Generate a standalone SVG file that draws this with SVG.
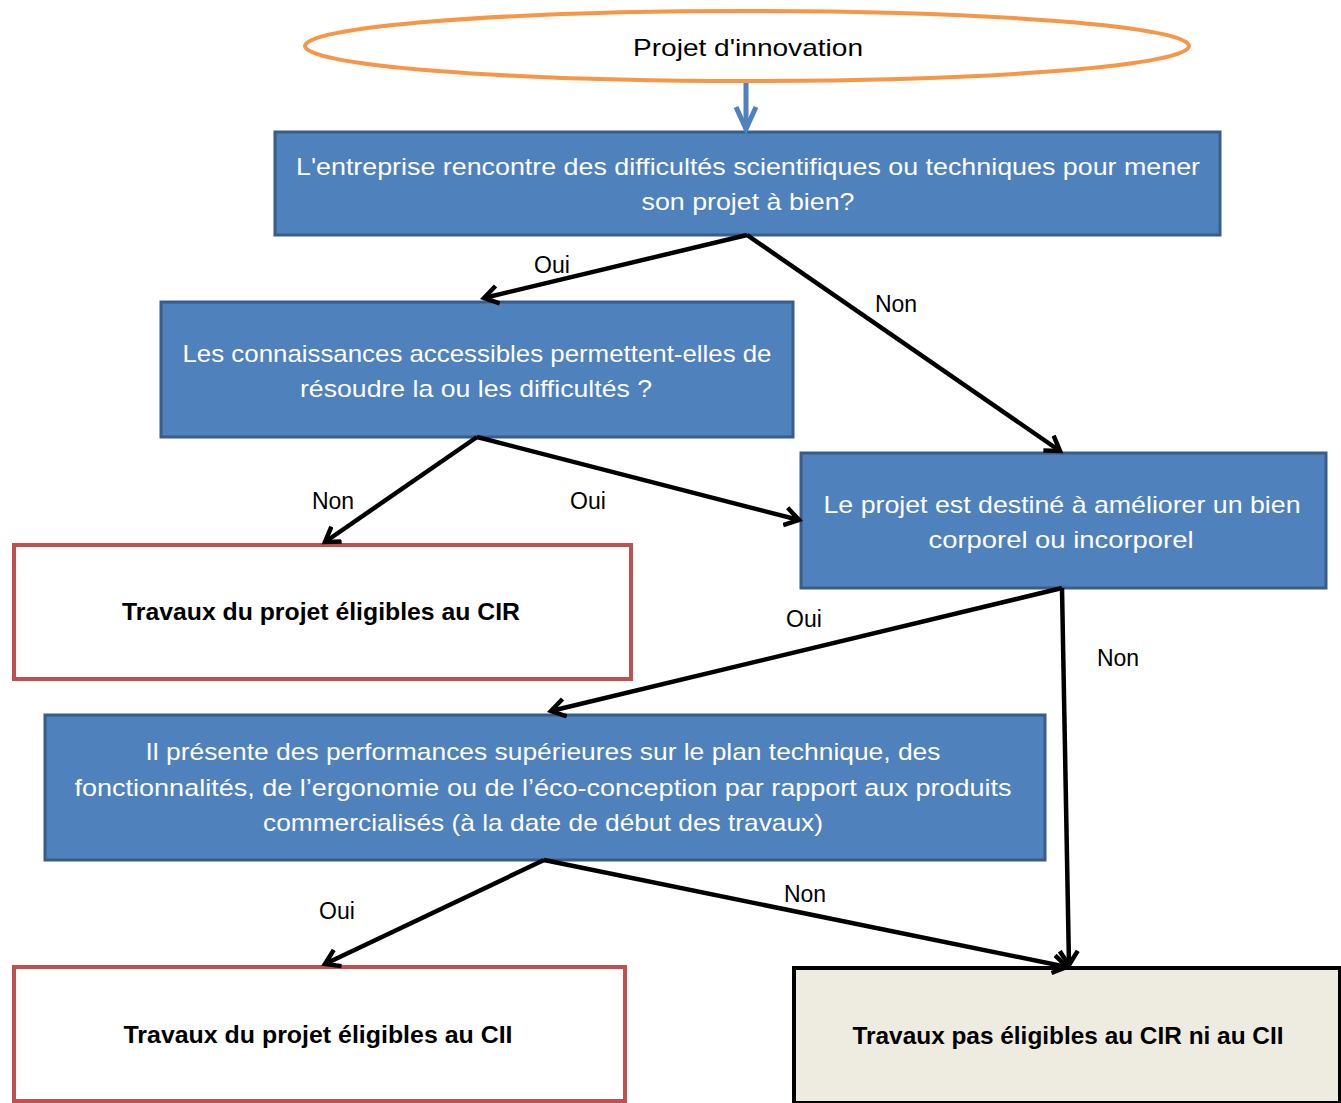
<svg xmlns="http://www.w3.org/2000/svg" width="1341" height="1103" viewBox="0 0 1341 1103">
<style>
.blue{fill:#4F81BD;stroke:#385D8A;stroke-width:3}
.red{fill:#FFFFFF;stroke:#C0504D;stroke-width:4}
.fin{fill:#EEECE1;stroke:#000000;stroke-width:4}
.wt{font-family:"Liberation Sans",Arial,sans-serif;font-size:24px;fill:#FFFFFF;text-anchor:middle}
.bt{font-family:"Liberation Sans",Arial,sans-serif;font-size:24px;font-weight:bold;fill:#000000;text-anchor:middle}
.lb{font-family:"Liberation Sans",Arial,sans-serif;font-size:23px;fill:#000000;text-anchor:middle}
.con{stroke:#000000;stroke-width:4.5;fill:none;marker-end:url(#ah)}
</style>
<defs>
<marker id="ah" markerUnits="userSpaceOnUse" markerWidth="30" markerHeight="30" viewBox="-15 -15 30 30" refX="0" refY="0" orient="auto">
<path d="M-14,-9 L0,0 L-14,9" fill="none" stroke="#000000" stroke-width="4.5"/>
</marker>
<marker id="ahb" markerUnits="userSpaceOnUse" markerWidth="36" markerHeight="36" viewBox="-24 -18 36 36" refX="0" refY="0" orient="auto">
<path d="M-22,-10 L0,0 L-22,10" fill="none" stroke="#4F81BD" stroke-width="5"/>
</marker>
</defs>
<rect x="0" y="0" width="1341" height="1103" fill="#FFFFFF"/>
<g id="start">
<ellipse cx="747" cy="46" rx="442" ry="35" fill="#FFFFFF" stroke="#F79646" stroke-width="4"/>
<text x="748" y="56" class="lb" style="font-size:24px" textLength="230" lengthAdjust="spacingAndGlyphs">Projet d'innovation</text>
</g>
<g id="q1">
<rect x="275" y="132" width="945" height="103" class="blue"/>
<text x="748" y="175" class="wt" textLength="904" lengthAdjust="spacingAndGlyphs">L'entreprise rencontre des difficultés scientifiques ou techniques pour mener</text>
<text x="748" y="210" class="wt" textLength="213" lengthAdjust="spacingAndGlyphs">son projet à bien?</text>
</g>
<g id="q2">
<rect x="161" y="302" width="632" height="135" class="blue"/>
<text x="477" y="362" class="wt" textLength="589" lengthAdjust="spacingAndGlyphs">Les connaissances accessibles permettent-elles de</text>
<text x="476" y="397" class="wt" textLength="352" lengthAdjust="spacingAndGlyphs">résoudre la ou les difficultés ?</text>
</g>
<g id="cir">
<rect x="14" y="545" width="617" height="134" class="red"/>
<text x="321" y="620" class="bt" textLength="398" lengthAdjust="spacingAndGlyphs">Travaux  du projet éligibles au CIR</text>
</g>
<g id="q3">
<rect x="801" y="453" width="525" height="135" class="blue"/>
<text x="1062" y="513" class="wt" textLength="477" lengthAdjust="spacingAndGlyphs">Le projet est destiné à améliorer un bien</text>
<text x="1061" y="548" class="wt" textLength="265" lengthAdjust="spacingAndGlyphs">corporel ou incorporel</text>
</g>
<g id="q4">
<rect x="45" y="715" width="1000" height="145" class="blue"/>
<text x="543" y="760" class="wt" textLength="795" lengthAdjust="spacingAndGlyphs">Il présente des performances supérieures sur le plan technique, des</text>
<text x="543" y="796" class="wt" textLength="937" lengthAdjust="spacingAndGlyphs">fonctionnalités, de l’ergonomie ou de l’éco-conception par rapport aux produits</text>
<text x="543" y="831" class="wt" textLength="560" lengthAdjust="spacingAndGlyphs">commercialisés (à la date de début des travaux)</text>
</g>
<g id="cii">
<rect x="14" y="967" width="611" height="134" class="red"/>
<text x="318" y="1043" class="bt" textLength="389" lengthAdjust="spacingAndGlyphs">Travaux  du projet éligibles au CII</text>
</g>
<g id="none">
<rect x="794" y="968" width="546" height="135" class="fin"/>
<text x="1068" y="1044" class="bt" textLength="431" lengthAdjust="spacingAndGlyphs">Travaux pas éligibles au CIR ni au CII</text>
</g>
<g id="connectors">
<line x1="746" y1="83" x2="746" y2="129" stroke="#4F81BD" stroke-width="5" marker-end="url(#ahb)"/>
<line x1="747" y1="235" x2="484" y2="298" class="con"/>
<line x1="747" y1="235" x2="1060" y2="451" class="con"/>
<line x1="477" y1="437" x2="325" y2="542" class="con"/>
<line x1="477" y1="437" x2="799" y2="520" class="con"/>
<line x1="1062" y1="588" x2="551" y2="711" class="con"/>
<line x1="1062" y1="588" x2="1069" y2="965" class="con"/>
<line x1="544" y1="860" x2="325" y2="964" class="con"/>
<line x1="544" y1="860" x2="1067" y2="967" class="con"/>
<text x="552" y="273" class="lb">Oui</text>
<text x="896" y="312" class="lb">Non</text>
<text x="333" y="509" class="lb">Non</text>
<text x="588" y="509" class="lb">Oui</text>
<text x="804" y="627" class="lb">Oui</text>
<text x="1118" y="666" class="lb">Non</text>
<text x="337" y="919" class="lb">Oui</text>
<text x="805" y="902" class="lb">Non</text>
</g>
</svg>
